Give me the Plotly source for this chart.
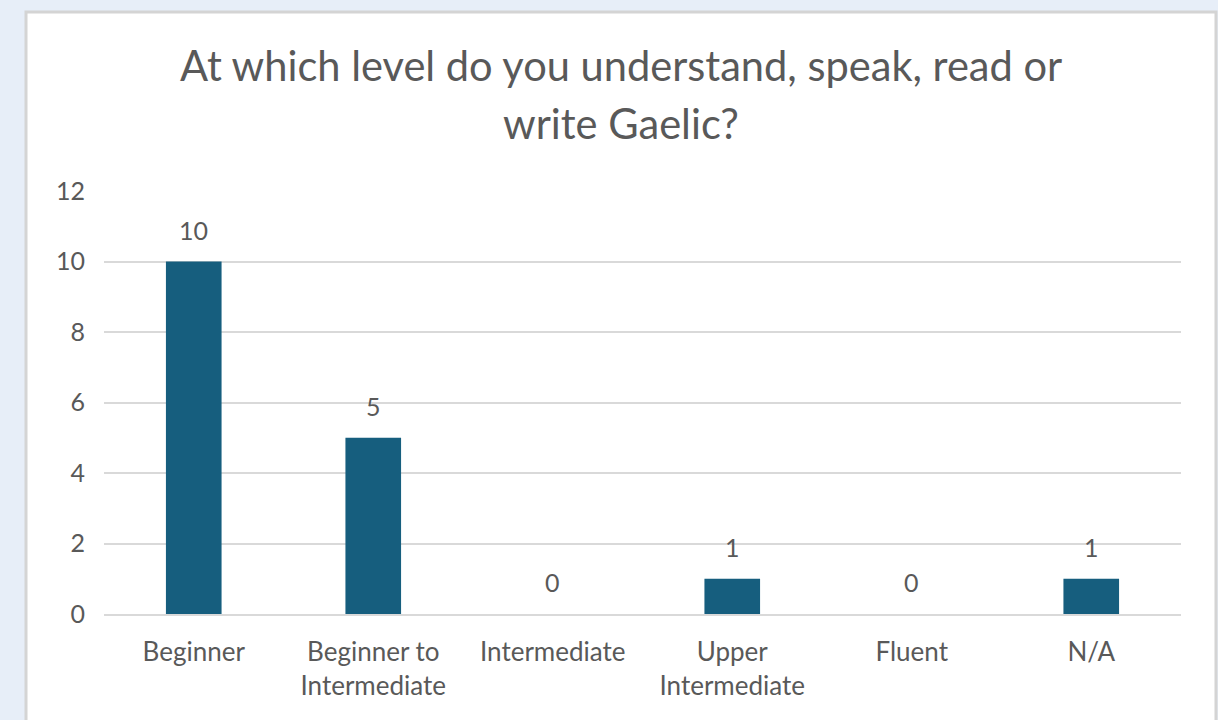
import plotly.graph_objects as go

categories = ["Beginner", "Beginner to<br>Intermediate", "Intermediate",
              "Upper<br>Intermediate", "Fluent", "N/A"]
counts = [10, 5, 0, 1, 0, 1]
title_lines = ["At which level do you understand, speak, read or", "write Gaelic?"]
y_ticks = [0, 2, 4, 6, 8, 10, 12]

L, R, T, B = 104, 37, 191, 106
W, H = 1218, 720
pw, ph = W - L - R, H - T - B

def px_x(p):
    return (p - L) / pw

def px_y(p):
    return (H - B - p) / ph

FONT = "Lato"
GRAY = "#595959"
BAR = "#165e7e"
GRID = "#d9d9d9"

fig = go.Figure()
fig.add_trace(go.Bar(x=categories, y=counts, marker=dict(color=BAR, line=dict(width=0)),
                     hoverinfo="x+y"))

annotations = []
for c, v in zip(categories, counts):
    annotations.append(dict(x=c, y=v, xref="x", yref="y", text=str(v), showarrow=False,
                            yanchor="middle", yshift=32,
                            font=dict(family=FONT, size=25, color=GRAY)))
for i, line in enumerate(title_lines):
    annotations.append(dict(x=px_x(621), y=px_y(65 + 58 * i), xref="paper", yref="paper",
                            text=line, showarrow=False, xanchor="center", yanchor="middle",
                            font=dict(family=FONT, size=41.6, color=GRAY)))

fig.update_layout(
    width=W, height=H,
    margin=dict(l=L, r=R, t=T, b=B),
    paper_bgcolor="#e7eef8",
    plot_bgcolor="rgba(0,0,0,0)",
    showlegend=False,
    bargap=0.69,
    annotations=annotations,
    shapes=[dict(type="rect", xref="paper", yref="paper", layer="below",
                 x0=px_x(26), x1=px_x(1216), y0=px_y(740), y1=px_y(12),
                 fillcolor="white", line=dict(color="#d4d4d4", width=3))],
    xaxis=dict(showgrid=False, showline=True, linecolor=GRID, linewidth=2,
               zeroline=False, ticks="", ticklabelstandoff=14,
               tickfont=dict(family=FONT, size=26, color=GRAY)),
    yaxis=dict(range=[0, 12], tickvals=y_ticks, showgrid=True, gridcolor=GRID,
               gridwidth=2, zeroline=False, showline=False, ticks="",
               ticklabelstandoff=18,
               tickfont=dict(family=FONT, size=25, color=GRAY)),
)

fig.write_html("out.html", config={"displayModeBar": False},
               post_script="document.body.style.margin='0';document.body.style.overflow='hidden';")
